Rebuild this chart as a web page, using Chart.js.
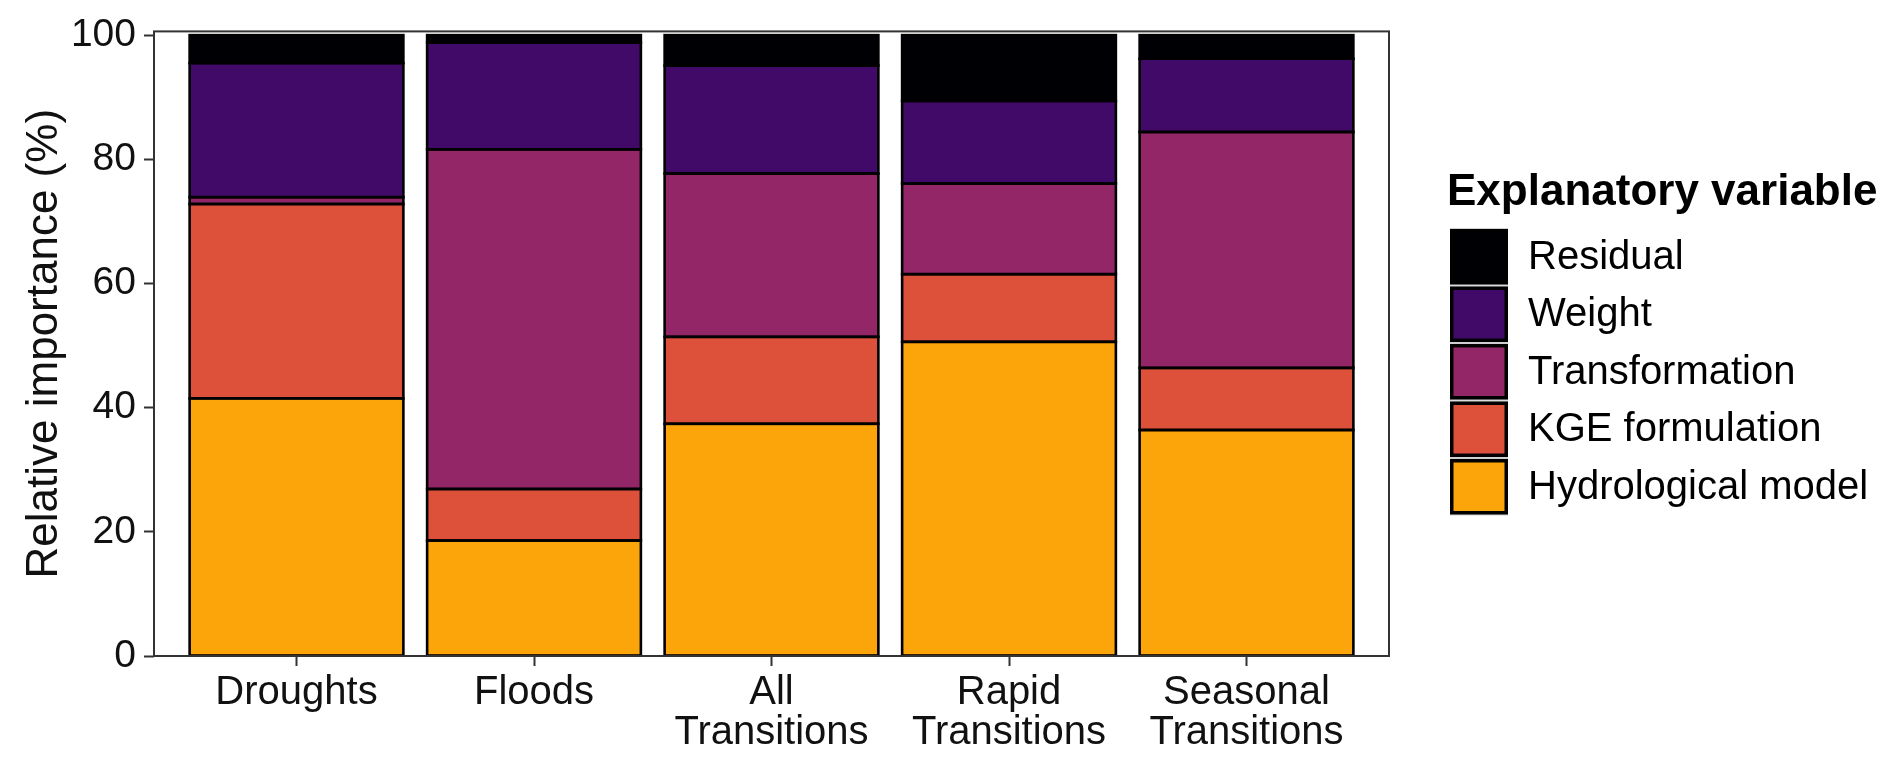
<!DOCTYPE html>
<html>
<head>
<meta charset="utf-8">
<title>Relative importance</title>
<script src="https://cdn.jsdelivr.net/npm/chart.js@4.4.0/dist/chart.umd.min.js"></script>
<style>
html, body { margin: 0; padding: 0; background: #fff; }
</style>
</head>
<body>
<canvas id="myChart" width="1892" height="765"></canvas>
<script>
var categories = ['Droughts', 'Floods', 'All Transitions', 'Rapid Transitions', 'Seasonal Transitions'];
var hydroModel = [41.5, 18.6, 37.4, 50.6, 36.4];
var kgeFormulation = [31.3, 8.3, 14.0, 10.9, 10.0];
var transformation = [1.1, 54.7, 26.3, 14.6, 38.0];
var weight = [21.6, 17.2, 17.4, 13.3, 11.8];
var residual = [4.5, 1.2, 4.9, 10.6, 3.8];
var yTicks = [0, 20, 40, 60, 80, 100];

var FONT = '"Liberation Sans", Arial, Helvetica, sans-serif';

function toPoints(values) {
	var pts = [];
	for (let i = 0; i < values.length; i++) {
		pts.push({x: i + 1, y: values[i]});
	}
	return pts;
}

function series(label, values, colour) {
	return {
		label: label,
		data: toPoints(values),
		backgroundColor: colour,
		borderWidth: 0,
		categoryPercentage: 1,
		barPercentage: 0.9
	};
}

// ggplot draws the outline centred on the rectangle edge, so stroke each bar segment here
var barOutline = {
	id: 'barOutline',
	afterDatasetsDraw: function (chart) {
		var ctx = chart.ctx;
		ctx.save();
		ctx.strokeStyle = '#000';
		ctx.lineWidth = 2.6;
		for (let d = 0; d < chart.data.datasets.length; d++) {
			var meta = chart.getDatasetMeta(d);
			for (let i = 0; i < meta.data.length; i++) {
				var p = meta.data[i].getProps(['x', 'y', 'base', 'width'], true);
				ctx.strokeRect(p.x - p.width / 2, Math.min(p.y, p.base), p.width, Math.abs(p.base - p.y));
			}
		}
		ctx.restore();
	}
};

// panel border drawn over the bars
var frame = {
	id: 'frame',
	afterDatasetsDraw: function (chart) {
		var a = chart.chartArea, ctx = chart.ctx;
		ctx.save();
		ctx.strokeStyle = '#333';
		ctx.lineWidth = 2;
		ctx.strokeRect(a.left, a.top, a.right - a.left, a.bottom - a.top);
		ctx.restore();
	}
};

// ggplot style legend on the right, top to bottom in reverse stack order
var sideLegend = {
	id: 'sideLegend',
	afterDraw: function (chart) {
		var ctx = chart.ctx;
		var sets = chart.data.datasets;
		var x = 1450, y = 228, w = 58, h = 57.5;
		ctx.save();
		ctx.fillStyle = '#000';
		ctx.textAlign = 'left';
		ctx.textBaseline = 'alphabetic';
		ctx.font = '700 44px ' + FONT;
		ctx.fillText('Explanatory variable', 1447, 205);
		ctx.font = '40px ' + FONT;
		ctx.textBaseline = 'middle';
		for (let i = 0; i < sets.length; i++) {
			var ds = sets[sets.length - 1 - i];
			var top = y + i * h;
			ctx.fillStyle = '#cfcfcf';
			ctx.fillRect(x, top, w, h);
			ctx.fillStyle = '#000';
			ctx.fillRect(x, top + 1, w, h - 2);
			ctx.fillStyle = ds.backgroundColor;
			ctx.fillRect(x + 3.5, top + 4.5, w - 7, h - 9);
			ctx.fillStyle = '#000';
			ctx.fillText(ds.label, 1528, top + h / 2 + 1);
		}
		ctx.restore();
	}
};

new Chart('myChart', {
	type: 'bar',
	data: {
		datasets: [
			series('Hydrological model', hydroModel, '#FCA50A'),
			series('KGE formulation', kgeFormulation, '#DD513A'),
			series('Transformation', transformation, '#932667'),
			series('Weight', weight, '#420A68'),
			series('Residual', residual, '#000004')
		]
	},
	options: {
		responsive: false,
		animation: false,
		devicePixelRatio: 1,
		layout: {padding: {left: 0, top: 28, right: 503, bottom: 0}},
		plugins: {
			legend: {display: false},
			tooltip: {enabled: false}
		},
		scales: {
			x: {
				type: 'linear',
				stacked: true,
				offset: false,
				min: 0.4,
				max: 5.6,
				afterBuildTicks: function (s) {
					s.ticks = categories.map(function (c, i) { return {value: i + 1}; });
				},
				afterFit: function (s) { s.height = 109; },
				border: {display: false},
				grid: {offset: false, drawOnChartArea: false, drawTicks: true, tickLength: 10, tickWidth: 2, tickColor: '#333'},
				ticks: {
					autoSkip: false,
					maxRotation: 0,
					padding: 7,
					color: '#111',
					font: {family: FONT, size: 40, lineHeight: 1.0},
					callback: function (v) {
						var c = categories[Math.round(v) - 1];
						var sp = c.indexOf(' ');
						return sp < 0 ? c : [c.slice(0, sp), c.slice(sp + 1)];
					}
				}
			},
			y: {
				stacked: true,
				min: 0,
				max: 100.6,
				afterBuildTicks: function (s) {
					s.ticks = yTicks.map(function (v) { return {value: v}; });
				},
				afterFit: function (s) { s.width = 154; },
				border: {display: false},
				grid: {drawOnChartArea: false, drawTicks: true, tickLength: 10, tickWidth: 2, tickColor: '#333'},
				ticks: {
					padding: 8,
					color: '#111',
					font: {family: FONT, size: 39}
				},
				title: {
					display: true,
					text: 'Relative importance (%)',
					color: '#111',
					font: {family: FONT, size: 44},
					padding: {top: 18, bottom: 0}
				}
			}
		}
	},
	plugins: [barOutline, frame, sideLegend]
});
</script>
</body>
</html>
